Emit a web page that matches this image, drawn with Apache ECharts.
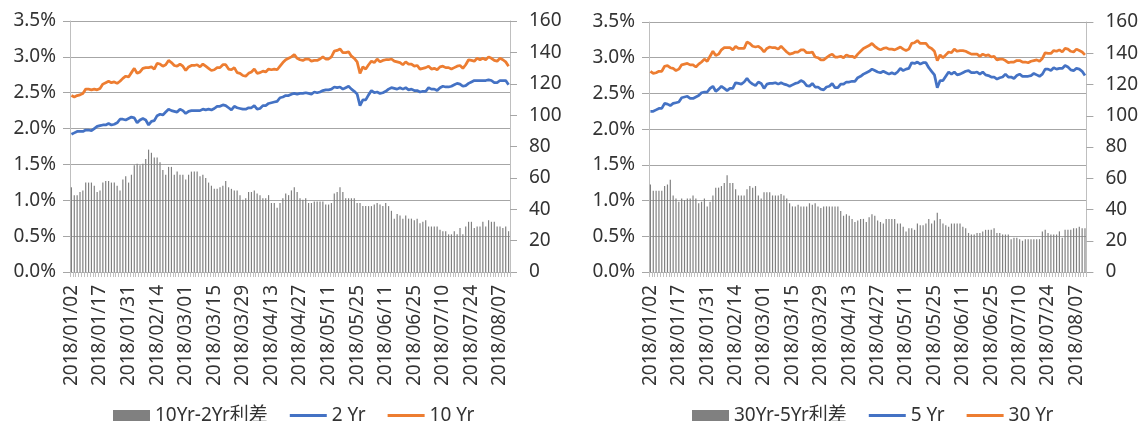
<!DOCTYPE html>
<html>
<head>
<meta charset="utf-8">
<script src="https://cdn.jsdelivr.net/npm/echarts@6/dist/echarts.min.js"></script>
<style>
html,body{margin:0;padding:0;background:#fff;}
#c{width:1141px;height:421px;}
</style>
</head>
<body>
<div id="c"></div>
<script>
const dates = [
'2018/01/02','2018/01/03','2018/01/04','2018/01/05','2018/01/08','2018/01/09','2018/01/10','2018/01/11','2018/01/12','2018/01/16','2018/01/17','2018/01/18','2018/01/19','2018/01/22','2018/01/23','2018/01/24','2018/01/25','2018/01/26','2018/01/29','2018/01/30','2018/01/31',
'2018/02/01','2018/02/02','2018/02/05','2018/02/06','2018/02/07','2018/02/08','2018/02/09','2018/02/12','2018/02/13','2018/02/14','2018/02/15','2018/02/16','2018/02/20','2018/02/21','2018/02/22','2018/02/23','2018/02/26','2018/02/27','2018/02/28',
'2018/03/01','2018/03/02','2018/03/05','2018/03/06','2018/03/07','2018/03/08','2018/03/09','2018/03/12','2018/03/13','2018/03/14','2018/03/15','2018/03/16','2018/03/19','2018/03/20','2018/03/21','2018/03/22','2018/03/23','2018/03/26','2018/03/27','2018/03/28','2018/03/29',
'2018/04/02','2018/04/03','2018/04/04','2018/04/05','2018/04/06','2018/04/09','2018/04/10','2018/04/11','2018/04/12','2018/04/13','2018/04/16','2018/04/17','2018/04/18','2018/04/19','2018/04/20','2018/04/23','2018/04/24','2018/04/25','2018/04/26','2018/04/27','2018/04/30',
'2018/05/01','2018/05/02','2018/05/03','2018/05/04','2018/05/07','2018/05/08','2018/05/09','2018/05/10','2018/05/11','2018/05/14','2018/05/15','2018/05/16','2018/05/17','2018/05/18','2018/05/21','2018/05/22','2018/05/23','2018/05/24','2018/05/25','2018/05/29','2018/05/30','2018/05/31',
'2018/06/01','2018/06/04','2018/06/05','2018/06/06','2018/06/07','2018/06/08','2018/06/11','2018/06/12','2018/06/13','2018/06/14','2018/06/15','2018/06/18','2018/06/19','2018/06/20','2018/06/21','2018/06/22','2018/06/25','2018/06/26','2018/06/27','2018/06/28','2018/06/29',
'2018/07/02','2018/07/03','2018/07/05','2018/07/06','2018/07/09','2018/07/10','2018/07/11','2018/07/12','2018/07/13','2018/07/16','2018/07/17','2018/07/18','2018/07/19','2018/07/20','2018/07/23','2018/07/24','2018/07/25','2018/07/26','2018/07/27','2018/07/30','2018/07/31',
'2018/08/01','2018/08/02','2018/08/03','2018/08/06','2018/08/07','2018/08/08','2018/08/09','2018/08/10'
];

// 2 Yr yield (%)
const y2 = [
1.92,1.94,1.96,1.96,1.96,1.98,1.98,1.97,2.00,2.03,2.04,2.05,2.05,2.07,2.05,2.06,2.08,2.13,2.13,2.12,2.14,
2.16,2.15,2.08,2.12,2.14,2.12,2.05,2.10,2.11,2.18,2.20,2.19,2.23,2.27,2.25,2.24,2.23,2.27,2.25,
2.21,2.24,2.25,2.25,2.25,2.25,2.27,2.26,2.27,2.26,2.28,2.31,2.31,2.33,2.32,2.29,2.26,2.31,2.29,2.28,2.27,
2.27,2.29,2.29,2.32,2.27,2.28,2.32,2.32,2.35,2.36,2.37,2.38,2.43,2.44,2.46,2.46,2.48,2.49,2.48,2.49,2.49,
2.50,2.49,2.48,2.51,2.50,2.51,2.53,2.54,2.54,2.55,2.58,2.57,2.58,2.55,2.57,2.59,2.55,2.52,2.48,2.32,2.40,2.40,
2.47,2.53,2.50,2.51,2.49,2.50,2.52,2.55,2.57,2.56,2.55,2.57,2.55,2.57,2.54,2.55,2.53,2.53,2.51,2.52,2.52,
2.57,2.55,2.55,2.53,2.57,2.59,2.58,2.58,2.59,2.61,2.63,2.62,2.59,2.60,2.63,2.65,2.67,2.67,2.67,2.67,2.67,
2.68,2.67,2.64,2.64,2.67,2.67,2.67,2.61
];
// 10 Yr yield (%)
const y10 = [
2.46,2.44,2.46,2.47,2.49,2.55,2.55,2.54,2.55,2.54,2.56,2.62,2.64,2.66,2.64,2.65,2.63,2.66,2.70,2.73,2.72,
2.78,2.84,2.77,2.79,2.84,2.85,2.85,2.86,2.83,2.91,2.90,2.87,2.89,2.95,2.92,2.88,2.87,2.90,2.87,
2.81,2.86,2.88,2.88,2.89,2.86,2.90,2.87,2.84,2.81,2.82,2.85,2.85,2.89,2.89,2.83,2.82,2.85,2.78,2.77,2.74,
2.73,2.77,2.79,2.83,2.77,2.78,2.80,2.79,2.83,2.82,2.83,2.82,2.87,2.92,2.96,2.98,3.00,3.03,2.98,2.96,2.95,
2.97,2.97,2.94,2.95,2.95,2.97,3.00,2.97,2.97,3.00,3.08,3.09,3.11,3.06,3.06,3.07,3.01,2.98,2.93,2.77,2.86,2.83,
2.89,2.94,2.92,2.97,2.93,2.95,2.96,2.96,2.97,2.94,2.93,2.92,2.89,2.93,2.90,2.90,2.87,2.88,2.83,2.84,2.85,
2.87,2.83,2.84,2.82,2.86,2.87,2.85,2.85,2.83,2.85,2.87,2.88,2.84,2.89,2.96,2.95,2.94,2.98,2.96,2.98,2.96,
3.00,2.98,2.95,2.94,2.98,2.96,2.93,2.87
];
// 5 Yr yield (%)
const y5 = [
2.25,2.25,2.27,2.29,2.29,2.36,2.35,2.33,2.36,2.37,2.38,2.44,2.45,2.46,2.43,2.43,2.45,2.47,2.51,2.52,2.52,
2.57,2.60,2.53,2.56,2.60,2.57,2.54,2.57,2.57,2.65,2.64,2.63,2.66,2.71,2.66,2.63,2.61,2.66,2.64,
2.57,2.63,2.64,2.64,2.65,2.63,2.65,2.63,2.62,2.60,2.62,2.64,2.65,2.68,2.66,2.61,2.60,2.64,2.59,2.59,2.56,
2.55,2.59,2.60,2.64,2.58,2.58,2.63,2.63,2.66,2.66,2.67,2.67,2.72,2.74,2.77,2.79,2.81,2.84,2.82,2.80,2.79,
2.81,2.79,2.77,2.79,2.77,2.80,2.85,2.82,2.84,2.85,2.93,2.92,2.94,2.91,2.93,2.93,2.86,2.81,2.76,2.58,2.68,2.68,
2.74,2.80,2.77,2.80,2.76,2.77,2.79,2.81,2.82,2.79,2.79,2.80,2.77,2.80,2.76,2.75,2.73,2.73,2.70,2.72,2.73,
2.77,2.73,2.73,2.71,2.75,2.77,2.74,2.74,2.74,2.75,2.78,2.76,2.74,2.77,2.84,2.84,2.82,2.86,2.84,2.85,2.85,
2.89,2.87,2.83,2.82,2.85,2.84,2.81,2.75
];
// 30 Yr yield (%)
const y30 = [
2.81,2.78,2.79,2.81,2.81,2.88,2.89,2.86,2.85,2.82,2.84,2.90,2.91,2.92,2.90,2.90,2.87,2.91,2.94,2.98,2.95,
3.02,3.09,3.03,3.05,3.11,3.14,3.14,3.14,3.11,3.16,3.13,3.13,3.13,3.22,3.20,3.16,3.15,3.16,3.13,
3.08,3.13,3.15,3.14,3.14,3.12,3.16,3.12,3.08,3.05,3.06,3.08,3.08,3.11,3.11,3.07,3.07,3.08,3.01,3.00,2.97,
2.97,3.00,3.03,3.05,3.01,3.01,3.02,3.00,3.04,3.02,3.02,3.00,3.05,3.09,3.13,3.15,3.17,3.20,3.16,3.13,3.11,
3.13,3.14,3.12,3.12,3.11,3.13,3.15,3.12,3.10,3.12,3.20,3.21,3.24,3.20,3.20,3.20,3.15,3.13,3.09,2.96,3.04,3.00,
3.04,3.08,3.07,3.12,3.09,3.10,3.10,3.09,3.07,3.05,3.05,3.05,3.02,3.05,3.03,3.04,3.01,3.02,2.97,2.98,2.98,
2.96,2.93,2.94,2.94,2.96,2.96,2.94,2.94,2.93,2.95,2.96,2.97,2.95,2.99,3.07,3.06,3.06,3.10,3.09,3.11,3.08,
3.13,3.12,3.09,3.08,3.12,3.10,3.08,3.04
];
// 10Yr-2Yr spread (bp)
const sp10_2 = [
54,49,49,51,52,57,57,57,55,51,
52,57,58,58,57,57,55,52,59,61,
57,62,68,69,68,69,72,78,76,73,
73,70,65,62,67,67,62,64,62,62,
59,62,64,64,64,61,62,60,57,55,
53,53,54,55,58,54,53,52,52,49,
46,47,51,51,52,50,49,47,47,49,
44,44,41,44,47,50,49,52,54,51,
47,46,47,44,44,45,45,45,45,43,
43,44,50,51,54,51,47,47,47,47,
44,44,42,42,42,42,43,44,43,42,
44,42,39,34,37,36,34,36,34,34,
33,34,31,32,33,29,29,29,29,27,
26,26,24,24,26,24,28,24,29,32,
32,28,29,29,32,29,33,32,32,29,
29,28,29,26
];
// 30Yr-5Yr spread (bp)
const sp30_5 = [
56,52,52,52,52,55,56,59,49,47,
45,47,46,47,47,49,47,44,45,47,
42,45,49,54,54,55,57,62,57,57,
53,49,49,49,53,55,54,55,49,47,
51,51,51,49,49,49,50,49,47,44,
42,42,43,42,42,42,44,43,44,42,
41,42,42,42,42,42,42,39,36,37,
36,34,32,33,34,34,32,35,37,36,
33,32,31,34,34,34,34,31,31,29,
26,28,28,27,31,30,30,31,34,31,
33,38,34,31,30,29,31,31,31,31,
29,28,25,24,24,25,25,26,27,27,
27,28,25,25,24,24,24,21,22,22,
21,20,21,21,21,21,21,21,26,27,
25,24,24,24,26,22,27,27,27,28,
28,29,28,28
];

const pctTicks = {min: 0, max: 3.5, interval: 0.5};
const bpTicks = {min: 0, max: 160, interval: 20};
const names = {
  left: ['10Yr-2Yr利差', '2 Yr', '10 Yr'],
  right: ['30Yr-5Yr利差', '5 Yr', '30 Yr']
};

const FONT = '"Noto Sans", "Noto Sans CJK SC", sans-serif';
const TXT = '#333333';
const GRID = '#a6a6a6';
const BAR = '#808080';
const BLUE = '#4472C4';
const ORANGE = '#ED7D31';
const LINE_ICON = 'path://M0,0 L37,0 L37,3 L0,3 Z';

function xAxisFor(gi) {
  return {
    type: 'category', gridIndex: gi, data: dates, boundaryGap: true,
    axisLine: {show: true, lineStyle: {color: GRID, width: 1}},
    axisTick: {show: true, interval: 0, length: 5, lineStyle: {color: '#bfbfbf'}},
    axisLabel: {
      rotate: 90, margin: 13, fontSize: 19, color: TXT, fontFamily: FONT,
      interval: function (idx) { return idx % 10 === 0; }
    },
    splitLine: {show: false}
  };
}
function pctAxis(gi) {
  return {
    type: 'value', gridIndex: gi, position: 'left',
    min: pctTicks.min, max: pctTicks.max, interval: pctTicks.interval,
    axisLine: {show: true, lineStyle: {color: '#bfbfbf', width: 1}},
    axisTick: {show: true, length: 7, lineStyle: {color: GRID}},
    axisLabel: {margin: 14, fontSize: 19, color: TXT, fontFamily: FONT,
      formatter: v => v.toFixed(1) + '%'},
    splitLine: {show: true, lineStyle: {color: GRID, width: 1}}
  };
}
function bpAxis(gi) {
  return {
    type: 'value', gridIndex: gi, position: 'right',
    min: bpTicks.min, max: bpTicks.max, interval: bpTicks.interval,
    axisLine: {show: true, lineStyle: {color: '#bfbfbf', width: 1}},
    axisTick: {show: true, length: 7, lineStyle: {color: GRID}},
    axisLabel: {margin: 19, fontSize: 19, color: TXT, fontFamily: FONT},
    splitLine: {show: false}
  };
}
function barSeries(name, data, gi) {
  return {name, type: 'bar', data, xAxisIndex: gi, yAxisIndex: gi * 2 + 1,
    barWidth: '42%', itemStyle: {color: BAR}, z: 1, silent: true};
}
function lineSeries(name, data, gi, color) {
  return {name, type: 'line', data, xAxisIndex: gi, yAxisIndex: gi * 2,
    symbol: 'none', showSymbol: false, lineStyle: {color, width: 2.75}, itemStyle: {color}, z: 3, silent: true};
}
function legendFor(list, left) {
  return {
    left, top: 401, orient: 'horizontal', itemWidth: 37, itemHeight: 11, itemGap: 22,
    symbolKeepAspect: true,
    textStyle: {fontSize: 19, color: TXT, fontFamily: FONT},
    data: [
      {name: list[0], icon: 'rect'},
      {name: list[1], icon: LINE_ICON, itemStyle: {color: BLUE, borderWidth: 0}},
      {name: list[2], icon: LINE_ICON, itemStyle: {color: ORANGE, borderWidth: 0}}
    ],
    selectedMode: false
  };
}

const chart = echarts.init(document.getElementById('c'), null, {renderer: 'canvas'});
chart.setOption({
  animation: false,
  backgroundColor: '#fff',
  textStyle: {fontFamily: FONT},
  grid: [
    {left: 70, top: 21, width: 440, height: 251},
    {left: 649, top: 22, width: 440, height: 250}
  ],
  xAxis: [xAxisFor(0), xAxisFor(1)],
  yAxis: [pctAxis(0), bpAxis(0), pctAxis(1), bpAxis(1)],
  legend: [legendFor(names.left, 108), legendFor(names.right, 687)],
  series: [
    barSeries(names.left[0], sp10_2, 0),
    lineSeries(names.left[1], y2, 0, BLUE),
    lineSeries(names.left[2], y10, 0, ORANGE),
    barSeries(names.right[0], sp30_5, 1),
    lineSeries(names.right[1], y5, 1, BLUE),
    lineSeries(names.right[2], y30, 1, ORANGE)
  ]
});
</script>
</body>
</html>
